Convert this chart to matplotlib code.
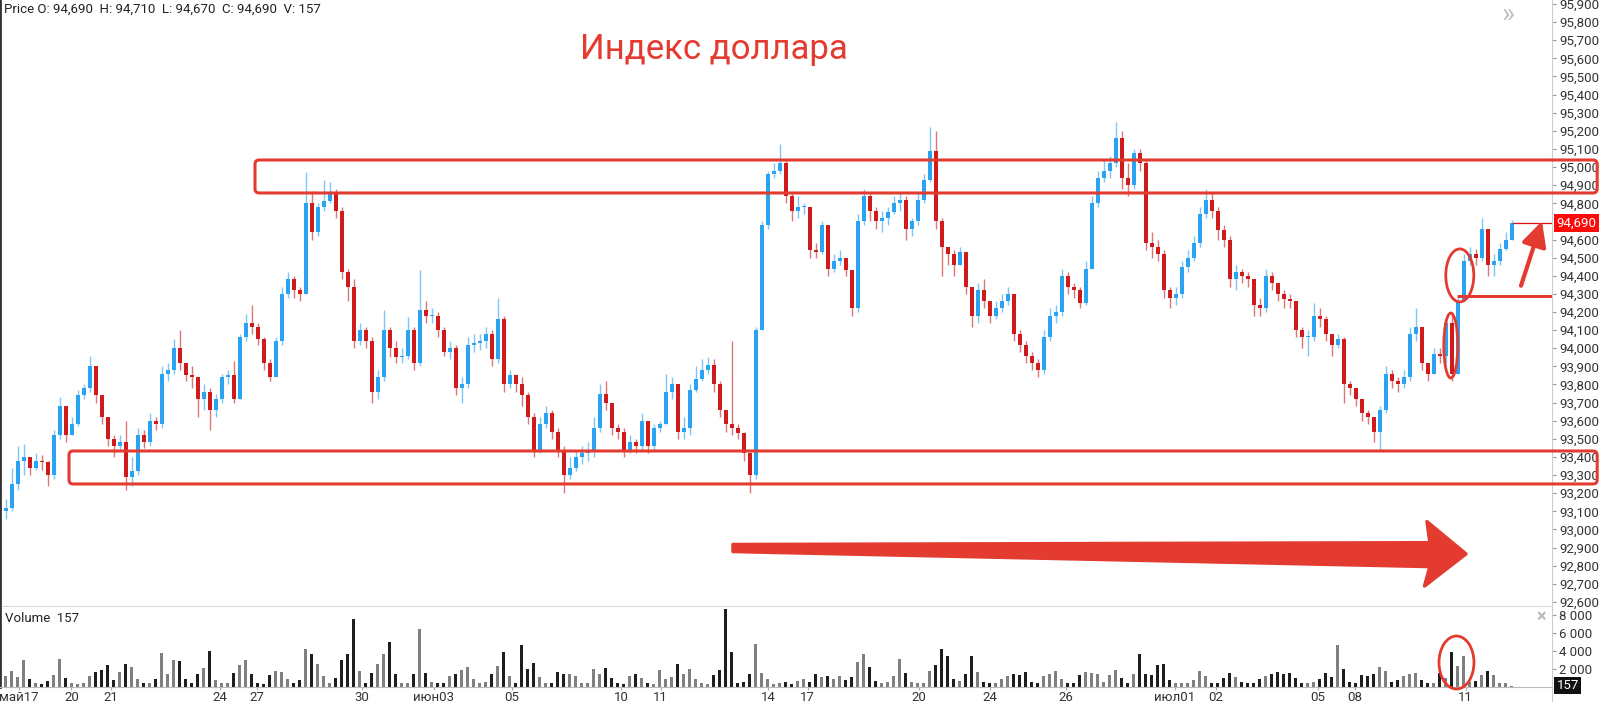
import numpy as np
import matplotlib
matplotlib.use("Agg")
import matplotlib.pyplot as plt
from matplotlib.patches import FancyBboxPatch, Ellipse, Polygon
from matplotlib.lines import Line2D

plt.rcParams['font.family'] = ['Roboto', 'DejaVu Sans']

# --- data (price index, candles ~ every 6 px) ---
first_open = 93.10
closes = [
    93.12, 93.25, 93.38, 93.40, 93.34, 93.38, 93.37, 93.30, 93.52, 93.68, 93.52, 93.58,
    93.74, 93.78, 93.90, 93.74, 93.62, 93.50, 93.46, 93.48, 93.29, 93.32, 93.52, 93.48,
    93.60, 93.58, 93.86, 93.88, 94.00, 93.92, 93.85, 93.84, 93.72, 93.76, 93.66, 93.72,
    93.84, 93.85, 93.72, 94.06, 94.14, 94.12, 94.05, 93.92, 93.84, 94.04, 94.30, 94.38,
    94.32, 94.30, 94.80, 94.64, 94.78, 94.81, 94.86, 94.76, 94.42, 94.34, 94.04, 94.10,
    94.04, 93.76, 93.84, 94.10, 94.00, 93.95, 93.96, 94.10, 93.92, 94.21, 94.18, 94.18,
    94.10, 93.98, 94.00, 93.78, 93.80, 94.02, 94.03, 94.04, 94.08, 93.94, 94.16, 93.80,
    93.85, 93.80, 93.74, 93.62, 93.44, 93.58, 93.64, 93.54, 93.44, 93.30, 93.34, 93.40,
    93.42, 93.43, 93.56, 93.75, 93.70, 93.56, 93.54, 93.44, 93.48, 93.46, 93.60, 93.46,
    93.56, 93.58, 93.76, 93.80, 93.54, 93.56, 93.77, 93.83, 93.88, 93.91, 93.80, 93.66,
    93.58, 93.56, 93.53, 93.42, 93.30, 94.10, 94.68, 94.96, 94.98, 95.02, 94.84, 94.76,
    94.78, 94.78, 94.54, 94.53, 94.68, 94.44, 94.48, 94.50, 94.43, 94.22, 94.70, 94.84,
    94.76, 94.70, 94.72, 94.75, 94.80, 94.82, 94.66, 94.70, 94.82, 94.93, 95.09, 94.70,
    94.56, 94.52, 94.46, 94.53, 94.34, 94.18, 94.32, 94.26, 94.18, 94.22, 94.26, 94.30,
    94.08, 94.02, 93.96, 93.92, 93.88, 94.06, 94.18, 94.20, 94.40, 94.34, 94.32, 94.25,
    94.44, 94.80, 94.94, 94.98, 95.02, 95.16, 94.94, 94.90, 95.08, 95.02, 94.58, 94.56,
    94.52, 94.32, 94.28, 94.30, 94.45, 94.50, 94.58, 94.74, 94.82, 94.76, 94.65, 94.60,
    94.38, 94.42, 94.40, 94.38, 94.24, 94.22, 94.40, 94.36, 94.30, 94.27, 94.26, 94.10,
    94.06, 94.06, 94.18, 94.16, 94.08, 94.02, 94.05, 93.80, 93.78, 93.72, 93.64, 93.62,
    93.54, 93.66, 93.86, 93.82, 93.80, 93.84, 94.08, 94.12, 93.92, 93.86, 93.97, 93.96,
    94.14, 93.86, 94.26, 94.48, 94.52, 94.50, 94.66, 94.46, 94.48, 94.55, 94.60, 94.69,
]
highs = [
    93.17, 93.34, 93.46, 93.47, 93.40, 93.42, 93.41, 93.38, 93.55, 93.73, 93.66, 93.62,
    93.77, 93.80, 93.96, 93.90, 93.74, 93.62, 93.52, 93.52, 93.60, 93.40, 93.56, 93.55,
    93.64, 93.62, 93.90, 93.92, 94.05, 94.10, 93.92, 93.90, 93.84, 93.80, 93.78, 93.75,
    93.86, 93.88, 93.93, 94.08, 94.19, 94.24, 94.14, 94.06, 93.94, 94.06, 94.34, 94.42,
    94.40, 94.34, 94.97, 94.87, 94.80, 94.93, 94.92, 94.88, 94.78, 94.44, 94.38, 94.14,
    94.12, 94.06, 93.88, 94.21, 94.12, 94.04, 94.00, 94.17, 94.12, 94.43, 94.26, 94.22,
    94.20, 94.12, 94.04, 94.02, 93.84, 94.06, 94.08, 94.08, 94.12, 94.10, 94.28, 94.18,
    93.88, 93.86, 93.84, 93.76, 93.64, 93.62, 93.68, 93.66, 93.56, 93.46, 93.40, 93.44,
    93.46, 93.48, 93.62, 93.80, 93.82, 93.70, 93.58, 93.56, 93.52, 93.50, 93.64, 93.60,
    93.58, 93.60, 93.86, 93.84, 93.80, 93.62, 93.80, 93.90, 93.94, 93.95, 93.94, 93.82,
    93.66, 94.04, 93.58, 93.54, 93.42, 94.12, 94.70, 94.98, 95.02, 95.13, 95.04, 94.86,
    94.84, 94.80, 94.62, 94.58, 94.70, 94.66, 94.52, 94.54, 94.50, 94.30, 94.74, 94.88,
    94.86, 94.78, 94.76, 94.78, 94.84, 94.86, 94.84, 94.72, 94.86, 94.96, 95.22, 95.20,
    94.72, 94.56, 94.54, 94.56, 94.52, 94.34, 94.36, 94.38, 94.24, 94.26, 94.30, 94.34,
    94.30, 94.10, 94.04, 93.98, 93.94, 94.10, 94.22, 94.24, 94.44, 94.42, 94.36, 94.34,
    94.48, 94.84, 94.98, 95.04, 95.06, 95.25, 95.20, 95.02, 95.10, 95.10, 95.04, 94.64,
    94.60, 94.54, 94.34, 94.34, 94.48, 94.54, 94.62, 94.78, 94.88, 94.86, 94.78, 94.68,
    94.62, 94.46, 94.44, 94.42, 94.38, 94.28, 94.44, 94.42, 94.36, 94.32, 94.30, 94.26,
    94.12, 94.10, 94.25, 94.22, 94.18, 94.08, 94.08, 94.06, 93.82, 93.78, 93.72, 93.66,
    93.62, 93.68, 93.90, 93.88, 93.84, 93.88, 94.12, 94.22, 94.10, 93.92, 94.00, 94.00,
    94.16, 94.20, 94.28, 94.52, 94.56, 94.55, 94.72, 94.66, 94.52, 94.58, 94.64, 94.71,
]
lows = [
    93.06, 93.10, 93.22, 93.30, 93.30, 93.33, 93.33, 93.24, 93.28, 93.50, 93.48, 93.52,
    93.57, 93.72, 93.76, 93.70, 93.58, 93.46, 93.40, 93.44, 93.22, 93.24, 93.30, 93.45,
    93.46, 93.55, 93.56, 93.82, 93.86, 93.88, 93.82, 93.78, 93.62, 93.66, 93.55, 93.62,
    93.70, 93.80, 93.70, 93.72, 94.04, 94.08, 94.02, 93.88, 93.82, 93.84, 94.02, 94.28,
    94.28, 94.26, 94.30, 94.60, 94.62, 94.76, 94.80, 94.72, 94.38, 94.26, 94.00, 94.02,
    94.00, 93.70, 93.72, 93.82, 93.95, 93.92, 93.92, 93.94, 93.88, 93.90, 94.14, 94.14,
    94.06, 93.96, 93.94, 93.74, 93.70, 93.78, 93.98, 93.99, 94.00, 93.90, 93.92, 93.76,
    93.78, 93.76, 93.68, 93.58, 93.40, 93.42, 93.56, 93.50, 93.40, 93.20, 93.28, 93.32,
    93.36, 93.38, 93.40, 93.54, 93.66, 93.52, 93.50, 93.40, 93.42, 93.42, 93.44, 93.42,
    93.44, 93.54, 93.58, 93.72, 93.50, 93.50, 93.52, 93.76, 93.82, 93.86, 93.76, 93.62,
    93.54, 93.52, 93.50, 93.38, 93.20, 93.28, 94.10, 94.66, 94.94, 94.96, 94.80, 94.70,
    94.72, 94.74, 94.50, 94.50, 94.52, 94.40, 94.42, 94.46, 94.40, 94.18, 94.20, 94.68,
    94.70, 94.66, 94.64, 94.68, 94.74, 94.76, 94.60, 94.62, 94.68, 94.80, 94.92, 94.66,
    94.40, 94.46, 94.40, 94.48, 94.30, 94.12, 94.14, 94.22, 94.14, 94.16, 94.20, 94.24,
    94.04, 93.98, 93.92, 93.88, 93.84, 93.86, 94.04, 94.14, 94.18, 94.30, 94.28, 94.22,
    94.24, 94.44, 94.78, 94.92, 94.94, 95.00, 94.88, 94.84, 94.88, 94.98, 94.54, 94.50,
    94.48, 94.28, 94.22, 94.24, 94.28, 94.42, 94.48, 94.56, 94.72, 94.72, 94.60, 94.56,
    94.34, 94.32, 94.36, 94.34, 94.18, 94.18, 94.20, 94.32, 94.26, 94.22, 94.22, 94.06,
    94.00, 93.96, 94.04, 94.12, 94.04, 93.96, 94.00, 93.70, 93.74, 93.68, 93.60, 93.58,
    93.48, 93.44, 93.64, 93.78, 93.76, 93.78, 93.82, 94.04, 93.88, 93.82, 93.86, 93.92,
    93.92, 93.82, 93.86, 94.26, 94.46, 94.46, 94.48, 94.40, 94.40, 94.46, 94.54, 94.60,
]
volumes = [
    1200, 1800, 1100, 3000, 900, 400, 300, 700, 1300, 3100, 1000, 500,
    300, 400, 1200, 1700, 1900, 2400, 800, 1700, 2600, 2200, 900, 400,
    500, 900, 3800, 1500, 3000, 2900, 900, 400, 1400, 2100, 4000, 800,
    400, 500, 1600, 2400, 3000, 1400, 500, 300, 1300, 1800, 1700, 900,
    400, 800, 4200, 3700, 2600, 1200, 500, 1000, 3000, 3700, 7600, 1800,
    500, 1600, 2600, 3700, 5000, 1400, 500, 400, 1500, 6400, 1600, 600,
    400, 500, 1200, 1500, 1900, 2200, 900, 400, 600, 1400, 2300, 3900,
    1200, 400, 4700, 2000, 2700, 1100, 500, 400, 1700, 1500, 1400, 1200,
    500, 400, 2000, 1400, 2100, 1000, 400, 300, 1200, 1400, 1000, 500,
    300, 1900, 900, 1100, 2600, 1400, 2000, 900, 500, 300, 1300, 1900,
    8700, 3900, 400, 600, 1400, 4800, 1600, 900, 300, 400, 600, 300,
    700, 900, 600, 1400, 1100, 1200, 900, 1200, 800, 1100, 2800, 3700,
    2200, 700, 500, 600, 1200, 3100, 1600, 600, 400, 500, 1800, 2400,
    4200, 3400, 900, 700, 1400, 3400, 1700, 600, 500, 400, 900, 1200,
    1400, 1300, 1700, 600, 400, 1200, 1500, 1800, 900, 400, 500, 1300,
    1700, 1600, 1500, 600, 1300, 1900, 1000, 500, 1400, 3700, 1500, 1300,
    2400, 2600, 800, 500, 400, 500, 800, 1800, 1200, 500, 400, 1000,
    1600, 1100, 600, 400, 500, 900, 1200, 1500, 1700, 1400, 1600, 1000,
    500, 400, 600, 900, 1600, 1100, 4700, 2000, 600, 400, 1300, 1200,
    1500, 2200, 1800, 600, 800, 1200, 1500, 1600, 800, 400, 500, 1600,
    1000, 3900, 2300, 3400, 600, 700, 1300, 1800, 1300, 500, 400, 157,
]

date_pos = [2.2, 10.9, 17.5, 35.7, 41.8, 59.3, 71.3, 84.3, 102.5, 109.1,
            127.0, 133.6, 152.1, 164.0, 176.7, 194.8, 201.7, 218.7, 224.8, 243.3]
date_labels = ['май17', '20', '21', '24', '27', '30', 'июн03', '05', '10', '11',
               '14', '17', '20', '24', '26', 'июл01', '02', '05', '08', '11']

# levels drawn by hand on the chart
upper_zone = (94.857, 95.039)
lower_zone = (93.251, 93.433)
breakout_level = 94.289
last_price = 94.69
last_volume = 157

BLUE = '#2aa3f2'
RED = '#cf1b1b'
MARK = '#e33b30'

def fmt_price(v):
    return f"{v:.3f}".replace('.', ',')

fig = plt.figure(figsize=(16, 7.02), dpi=100)
ax = fig.add_axes([0, 95 / 702, 1552 / 1600, 607 / 702])
axv = fig.add_axes([0, 15 / 702, 1552 / 1600, 80 / 702])

x = np.arange(len(closes))
c = np.array(closes)
o = np.array([first_open] + closes[:-1])
h = np.maximum(np.array(highs), np.maximum(o, c))
l = np.minimum(np.array(lows), np.minimum(o, c))
up = c >= o

# candles
wick_cols = np.where(up, '#7dc6f7', '#dd7676')
ax.vlines(x, l, h, colors=wick_cols, linewidth=1.0, zorder=2)
body_cols = np.where(up, BLUE, RED)
ax.bar(x, np.maximum(np.abs(c - o), 0.006), bottom=np.minimum(o, c),
       width=0.62, color=body_cols, linewidth=0, zorder=3)

ax.set_xlim(-1, 257.67)
ax.set_ylim(92.572, 95.922)
yt = [round(v, 1) for v in np.arange(92.6, 95.95, 0.1) if abs(v - 94.7) > 0.01]
ax.set_yticks(yt)
ax.set_yticklabels([fmt_price(v) for v in yt])
ax.yaxis.tick_right()
ax.tick_params(axis='y', length=3, width=0.8, color='#999999', pad=2,
               labelsize=9.5, labelcolor='#333333')
ax.set_xticks([])
ax.spines['top'].set_visible(False)
ax.spines['left'].set_color('#333333')
ax.spines['left'].set_linewidth(2)
ax.spines['right'].set_color('#cccccc')
ax.spines['bottom'].set_color('#d8d8d8')
ax.spines['bottom'].set_linewidth(1.5)

# zones
for x0, (lo, hi) in [(41.5, upper_zone), (10.5, lower_zone)]:
    box = FancyBboxPatch((x0, lo), 265.2 - x0, hi - lo,
                         boxstyle='round,pad=0,rounding_size=0.7',
                         mutation_aspect=6 / 181.2, fill=False,
                         edgecolor=MARK, linewidth=2.2, clip_on=False, zorder=5)
    ax.add_patch(box)

# breakout line and last price line
ax.plot([241.8, 257.67], [breakout_level] * 2, color=MARK, lw=2.2, zorder=5,
        solid_capstyle='butt')
ax.plot([251.2, 257.67], [last_price] * 2, color='#e01010', lw=0.9, zorder=5)
ax.annotate(fmt_price(last_price), xy=(1.003, last_price),
            xycoords=('axes fraction', 'data'), va='center', ha='left',
            fontsize=9.5, color='white', zorder=10, annotation_clip=False,
            bbox=dict(boxstyle='square,pad=0.18', fc='#ff0a0a', ec='none'))

# ellipses
ax.add_patch(Ellipse((242.3, 94.402), 4.67, 0.2925, fill=False,
                     edgecolor=MARK, lw=2.0, zorder=6))
ax.add_patch(Ellipse((240.8, 94.015), 2.33, 0.3587, fill=False,
                     edgecolor=MARK, lw=2.0, zorder=6))

# big trend arrow
arrow_pts = [(121.17, 92.917), (237.33, 92.927), (236.83, 93.043),
             (243.33, 92.865), (236.42, 92.688), (237.33, 92.795),
             (121.17, 92.878)]
ax.add_patch(Polygon(arrow_pts, closed=True, facecolor=MARK, edgecolor=MARK,
                     lw=2.5, joinstyle='round', zorder=6))

# small up arrow
ax.annotate('', xy=(256.0, 94.702), xytext=(252.5, 94.345),
            arrowprops=dict(arrowstyle='-|>,head_length=1.5,head_width=0.75',
                            color=MARK, lw=3.0, shrinkA=0, shrinkB=0),
            annotation_clip=False, zorder=6)

# volume panel
vol_cols = np.where(up, '#808080', '#1e1e1e')
axv.bar(x, volumes, width=0.5, color=vol_cols, linewidth=0)
axv.set_xlim(-1, 257.67)
axv.set_ylim(0, 8889)
axv.set_yticks([2000, 4000, 6000, 8000])
axv.set_yticklabels(['2 000', '4 000', '6 000', '8 000'])
axv.yaxis.tick_right()
axv.tick_params(axis='y', length=3, width=0.8, color='#999999', pad=2,
                labelsize=9.5, labelcolor='#333333')
axv.set_xticks(date_pos)
axv.set_xticklabels(date_labels)
axv.tick_params(axis='x', length=2, color='#aaaaaa', pad=1,
                labelsize=9.5, labelcolor='#333333')
axv.spines['top'].set_visible(False)
axv.spines['left'].set_color('#333333')
axv.spines['left'].set_linewidth(2)
axv.spines['right'].set_color('#cccccc')
axv.spines['bottom'].set_color('#bbbbbb')
axv.add_patch(Ellipse((241.75, 2722), 5.83, 5889, fill=False,
                      edgecolor=MARK, lw=2.0, clip_on=False, zorder=6))
axv.annotate(str(last_volume), xy=(1.003, last_volume),
             xycoords=('axes fraction', 'data'), va='center', ha='left',
             fontsize=9.5, color='white', zorder=10, annotation_clip=False,
             bbox=dict(boxstyle='square,pad=0.18', fc='#111111', ec='none'))

fig.add_artist(Line2D([1552 / 1600] * 2, [0, 15 / 702], color='#cccccc', lw=0.8))

# texts
fig.text(4 / 1600, 1 - 9 / 702,
         'Price O: 94,690  H: 94,710  L: 94,670  C: 94,690  V: 157',
         fontsize=9.5, color='#222222', va='center', ha='left')
fig.text(5 / 1600, 1 - 618 / 702, 'Volume  157', fontsize=9.5,
         color='#222222', va='center', ha='left')
fig.text(714 / 1600, 1 - 49 / 702, 'Индекс доллара', fontsize=25,
         color=MARK, va='center', ha='center')
fig.text(1508 / 1600, 1 - 15 / 702, '»', fontsize=20, color='#c0c0c0',
         va='center', ha='center')
fig.text(1541 / 1600, 1 - 617 / 702, '×', fontsize=13, color='#b8b8b8',
         va='center', ha='center', fontweight='bold')

fig.savefig('out.png', dpi=100, facecolor='white')
